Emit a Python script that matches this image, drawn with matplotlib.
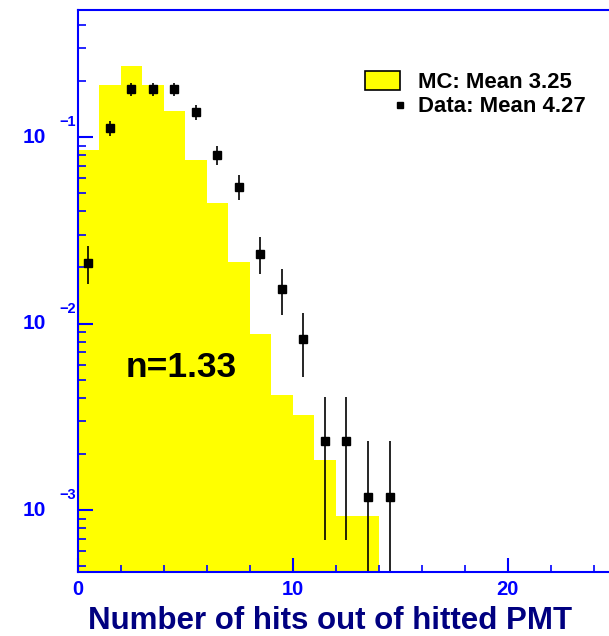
import numpy as np
import matplotlib.pyplot as plt
from matplotlib.patches import Patch
from matplotlib.lines import Line2D
from matplotlib.legend_handler import HandlerLine2D

plt.rcParams['font.family'] = ['Liberation Sans', 'DejaVu Sans']
plt.rcParams['font.weight'] = 'bold'

# MC histogram (normalised), bins of width 1 starting at 0
mc_edges = np.arange(0, 15)
mc_vals = [0.0851, 0.189, 0.240, 0.189, 0.138, 0.0753, 0.0443, 0.0213,
           0.00879, 0.00414, 0.00324, 0.00185, 0.00093, 0.00093]

# data points at bin centres
data_x = np.arange(0, 15) + 0.5
data_y = [0.0212, 0.112, 0.180, 0.181, 0.180, 0.136, 0.080, 0.0542,
          0.0237, 0.0154, 0.00827, 0.00236, 0.00236, 0.00118, 0.00118]
data_err = [0.0050, 0.0105, 0.0145, 0.0145, 0.0145, 0.0125, 0.0095, 0.008,
            0.0053, 0.0043, 0.0031, 0.00167, 0.00167, 0.00118, 0.00118]

mc_label = "MC: Mean 3.25"
data_label = "Data: Mean 4.27"
xlabel = "Number of hits out of hitted PMT"
ann_text = "n=1.33"

blue = '#0000ff'
navy = '#000080'

fig = plt.figure(figsize=(6.09, 6.36), dpi=100)
ax = fig.add_axes([77.5 / 609, 64 / 636, 531.5 / 609, 562 / 636])

ax.stairs(mc_vals, mc_edges, fill=True, baseline=1e-6, color='#ffff00', lw=0)
ax.errorbar(data_x, data_y, yerr=data_err, fmt='s', ms=6, mfc='black', mec='black',
            ecolor='black', elinewidth=1.2, capsize=0)

ax.set_yscale('log')
ax.set_xlim(0, 24.7)
ax.set_ylim(10 ** -3.332, 10 ** -0.319)

for s in ['left', 'top', 'bottom']:
    ax.spines[s].set_color(blue)
    ax.spines[s].set_linewidth(1.5)
ax.spines['right'].set_visible(False)

ax.set_xticks([0, 10, 20])
ax.set_xticks(np.arange(0, 25, 2), minor=True)
ax.tick_params(axis='x', which='both', direction='in', colors=blue, top=False)
ax.tick_params(axis='x', which='major', length=10, width=1.5, pad=6, labelsize=14.5)
ax.tick_params(axis='x', which='minor', length=5, width=1.2)
ax.tick_params(axis='y', which='both', direction='in', colors=blue, right=False, labelleft=False)
ax.tick_params(axis='y', which='major', length=11, width=1.5)
ax.tick_params(axis='y', which='minor', length=5.5, width=1.2)

for e in [-1, -2, -3]:
    ax.annotate('10', xy=(0, 10.0 ** e), xycoords=('axes fraction', 'data'),
                xytext=(-31.5, 0), textcoords='offset pixels', ha='right', va='center',
                fontsize=15, color=blue, fontweight='bold')
    ax.annotate('\u2212%d' % -e, xy=(0, 10.0 ** e), xycoords=('axes fraction', 'data'),
                xytext=(-1.5, 15), textcoords='offset pixels', ha='right', va='center',
                fontsize=10.5, color=blue, fontweight='bold')

ax.set_xlabel(xlabel, fontsize=22.5, color=navy, fontweight='bold', va='baseline')
ax.xaxis.set_label_coords(0.475, -0.1014)

ax.text(0.1947, 0.363, ann_text, transform=ax.transAxes, ha='center', va='center',
        fontsize=25.5, fontweight='bold', color='black')


class RightMarker(HandlerLine2D):
    def create_artists(self, legend, orig_handle, xdescent, ydescent, width, height, fontsize, trans):
        m = Line2D([width - xdescent], [height / 2 - ydescent], marker='s', ms=4.5,
                   color='black', ls='none', transform=trans)
        return [m]


handles = [Patch(facecolor='#ffff00', edgecolor='black', lw=1.2),
           Line2D([], [], marker='s', color='black', ls='none', ms=4.5)]
ax.legend(handles, [mc_label, data_label], handler_map={handles[1]: RightMarker()},
          loc='upper left', bbox_to_anchor=(0.541, 0.8915), frameon=False,
          fontsize=15.9, handlelength=1.585, handleheight=0.95, handletextpad=0.82,
          labelspacing=0.1, borderaxespad=0, borderpad=0)

fig.savefig('out.png', dpi=100)
